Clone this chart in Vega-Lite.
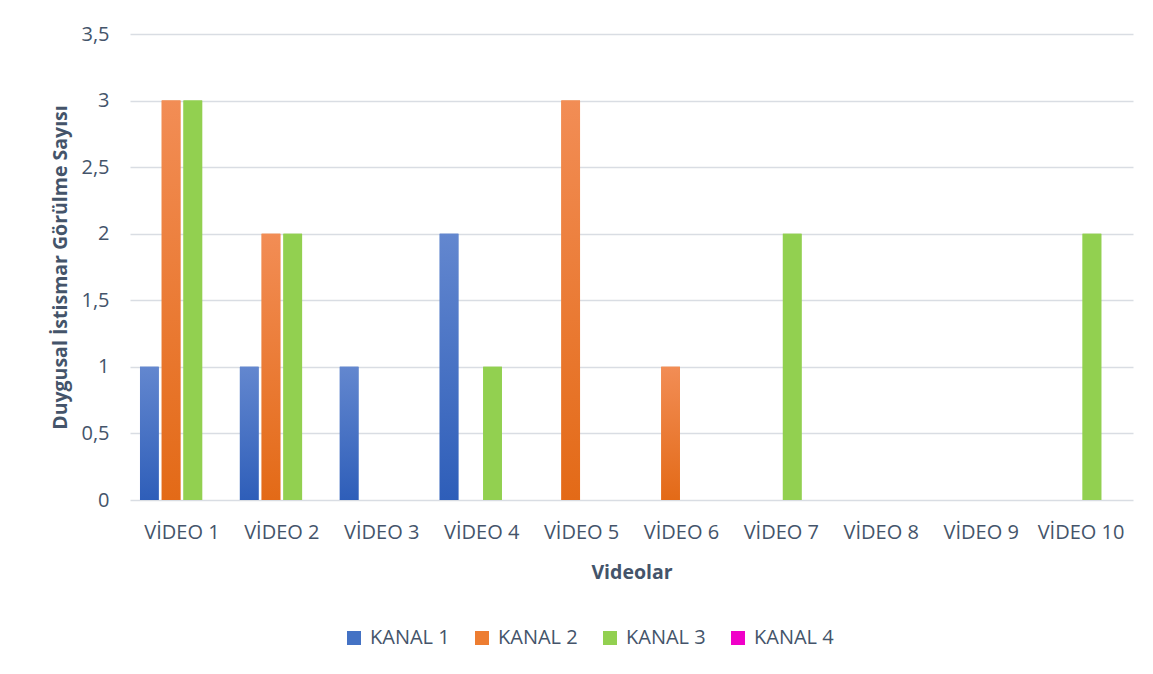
{
  "$schema": "https://vega.github.io/schema/vega-lite/v6.json",
  "width": 1003,
  "height": 466,
  "autosize": {"type": "none"},
  "padding": {"left": 130, "top": 34, "right": 20, "bottom": 174},
  "background": "white",
  "config": {
    "view": {"stroke": null},
    "font": "Open Sans",
    "axis": {"labelColor": "#44546A", "titleColor": "#44546A", "labelFontSize": 20, "titleFontSize": 19.5, "titleFontWeight": "bold", "labelFont": "Open Sans", "titleFont": "Open Sans"}
  },
  "data": {"values": [
    {"video": "VİDEO 1", "kanal": "KANAL 1", "sayi": 1},
    {"video": "VİDEO 1", "kanal": "KANAL 2", "sayi": 3},
    {"video": "VİDEO 1", "kanal": "KANAL 3", "sayi": 3},
    {"video": "VİDEO 1", "kanal": "KANAL 4", "sayi": 0},
    {"video": "VİDEO 2", "kanal": "KANAL 1", "sayi": 1},
    {"video": "VİDEO 2", "kanal": "KANAL 2", "sayi": 2},
    {"video": "VİDEO 2", "kanal": "KANAL 3", "sayi": 2},
    {"video": "VİDEO 2", "kanal": "KANAL 4", "sayi": 0},
    {"video": "VİDEO 3", "kanal": "KANAL 1", "sayi": 1},
    {"video": "VİDEO 3", "kanal": "KANAL 2", "sayi": 0},
    {"video": "VİDEO 3", "kanal": "KANAL 3", "sayi": 0},
    {"video": "VİDEO 3", "kanal": "KANAL 4", "sayi": 0},
    {"video": "VİDEO 4", "kanal": "KANAL 1", "sayi": 2},
    {"video": "VİDEO 4", "kanal": "KANAL 2", "sayi": 0},
    {"video": "VİDEO 4", "kanal": "KANAL 3", "sayi": 1},
    {"video": "VİDEO 4", "kanal": "KANAL 4", "sayi": 0},
    {"video": "VİDEO 5", "kanal": "KANAL 1", "sayi": 0},
    {"video": "VİDEO 5", "kanal": "KANAL 2", "sayi": 3},
    {"video": "VİDEO 5", "kanal": "KANAL 3", "sayi": 0},
    {"video": "VİDEO 5", "kanal": "KANAL 4", "sayi": 0},
    {"video": "VİDEO 6", "kanal": "KANAL 1", "sayi": 0},
    {"video": "VİDEO 6", "kanal": "KANAL 2", "sayi": 1},
    {"video": "VİDEO 6", "kanal": "KANAL 3", "sayi": 0},
    {"video": "VİDEO 6", "kanal": "KANAL 4", "sayi": 0},
    {"video": "VİDEO 7", "kanal": "KANAL 1", "sayi": 0},
    {"video": "VİDEO 7", "kanal": "KANAL 2", "sayi": 0},
    {"video": "VİDEO 7", "kanal": "KANAL 3", "sayi": 2},
    {"video": "VİDEO 7", "kanal": "KANAL 4", "sayi": 0},
    {"video": "VİDEO 8", "kanal": "KANAL 1", "sayi": 0},
    {"video": "VİDEO 8", "kanal": "KANAL 2", "sayi": 0},
    {"video": "VİDEO 8", "kanal": "KANAL 3", "sayi": 0},
    {"video": "VİDEO 8", "kanal": "KANAL 4", "sayi": 0},
    {"video": "VİDEO 9", "kanal": "KANAL 1", "sayi": 0},
    {"video": "VİDEO 9", "kanal": "KANAL 2", "sayi": 0},
    {"video": "VİDEO 9", "kanal": "KANAL 3", "sayi": 0},
    {"video": "VİDEO 9", "kanal": "KANAL 4", "sayi": 0},
    {"video": "VİDEO 10", "kanal": "KANAL 1", "sayi": 0},
    {"video": "VİDEO 10", "kanal": "KANAL 2", "sayi": 0},
    {"video": "VİDEO 10", "kanal": "KANAL 3", "sayi": 2},
    {"video": "VİDEO 10", "kanal": "KANAL 4", "sayi": 0}
  ]},
  "encoding": {
    "x": {
      "field": "video", "type": "nominal", "sort": null,
      "scale": {"paddingInner": 0.16, "paddingOuter": 0.1},
      "axis": {"title": "Videolar", "labelAngle": 0, "ticks": false, "tickSize": 0, "domain": false, "labelPadding": 22, "titlePadding": 21}
    },
    "xOffset": {
      "field": "kanal", "type": "nominal",
      "scale": {"paddingInner": 0.14, "paddingOuter": 0}
    },
    "y": {
      "field": "sayi", "type": "quantitative",
      "scale": {"domain": [0, 3.5]},
      "axis": {
        "title": "Duygusal İstismar Görülme Sayısı",
        "values": [0, 0.5, 1, 1.5, 2, 2.5, 3, 3.5],
        "labelExpr": "replace(format(datum.value, '.1~f'), '.', ',')",
        "ticks": false, "tickSize": 0, "domain": false, "labelPadding": 21, "titlePadding": 10,
        "gridColor": "#D9DDE3", "gridWidth": 1.5
      }
    }
  },
  "layer": [
    {
      "mark": {"type": "bar", "stroke": null},
      "encoding": {
        "color": {
          "field": "kanal", "type": "nominal",
          "scale": {
            "domain": ["KANAL 1", "KANAL 2", "KANAL 3", "KANAL 4"],
            "range": ["#4472C4", "#ED7D31", "#92D050", "#F000C8"]
          },
          "legend": {
            "title": null, "orient": "none", "direction": "horizontal",
            "legendX": 214, "legendY": 594,
            "symbolType": "square", "symbolSize": 196, "symbolStrokeWidth": 0,
            "labelFontSize": 20, "labelColor": "#44546A", "labelFont": "Open Sans",
            "columnPadding": 22, "labelOffset": 6
          }
        }
      }
    },
    {
      "mark": {"type": "bar", "stroke": null},
      "encoding": {
        "color": {
          "condition": [
            {"test": "datum.kanal === 'KANAL 1'", "value": {"gradient": "linear", "x1": 0, "y1": 0, "x2": 0, "y2": 1, "stops": [{"offset": 0, "color": "#6387CF"}, {"offset": 1, "color": "#2E5EB9"}]}},
            {"test": "datum.kanal === 'KANAL 2'", "value": {"gradient": "linear", "x1": 0, "y1": 0, "x2": 0, "y2": 1, "stops": [{"offset": 0, "color": "#F28D55"}, {"offset": 1, "color": "#E36A17"}]}},
            {"test": "datum.kanal === 'KANAL 3'", "value": "#92D050"}
          ],
          "value": "#F000C8"
        }
      }
    }
  ]
}
